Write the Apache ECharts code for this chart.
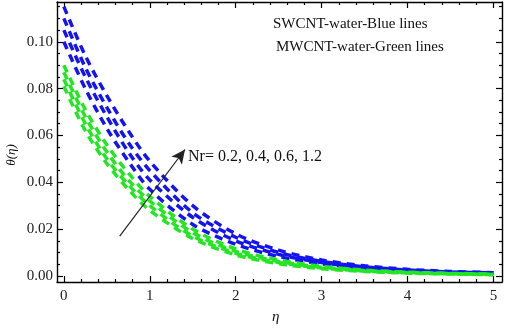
<!DOCTYPE html>
<html>
<head>
<meta charset="utf-8">
<script src="https://cdn.jsdelivr.net/npm/echarts@6/dist/echarts.min.js"></script>
<style>
  html, body { margin: 0; padding: 0; background: #fff; }
  #main { width: 505px; height: 333px; }
</style>
</head>
<body>
<div id="main"></div>
<script>
var eta = [0, 0.25, 0.5, 0.75, 1, 1.5, 2, 2.5, 3, 3.5, 4, 4.5, 5];

// SWCNT-water (blue), Nr = 0.2, 0.4, 0.6, 1.2
var blueNr02 = [0.100, 0.080, 0.063, 0.049, 0.037, 0.022, 0.0135, 0.0083, 0.0052, 0.0033, 0.0021, 0.0015, 0.0011];
var blueNr04 = [0.105, 0.085, 0.068, 0.053, 0.041, 0.025, 0.0150, 0.0092, 0.0057, 0.0036, 0.0023, 0.0016, 0.0012];
var blueNr06 = [0.110, 0.089, 0.072, 0.057, 0.045, 0.027, 0.0165, 0.0100, 0.0062, 0.0039, 0.0025, 0.0017, 0.0013];
var blueNr12 = [0.115, 0.094, 0.077, 0.062, 0.049, 0.030, 0.0180, 0.0110, 0.0068, 0.0043, 0.0028, 0.0019, 0.0014];

// MWCNT-water (green)
var greenNr02 = [0.081, 0.062, 0.048, 0.037, 0.028, 0.016, 0.0090, 0.0052, 0.0031, 0.0019, 0.0012, 0.0008, 0.0005];
var greenNr04 = [0.084, 0.065, 0.050, 0.039, 0.030, 0.017, 0.0097, 0.0057, 0.0034, 0.0021, 0.0013, 0.0009, 0.0006];
var greenNr06 = [0.087, 0.068, 0.053, 0.041, 0.032, 0.0185, 0.0105, 0.0062, 0.0037, 0.0023, 0.0015, 0.0010, 0.0007];
var greenNr12 = [0.090, 0.071, 0.056, 0.044, 0.034, 0.020, 0.0115, 0.0068, 0.0041, 0.0025, 0.0016, 0.0011, 0.0008];

var xMajor = [0, 1, 2, 3, 4, 5];
var xMinor = [0.2, 0.4, 0.6, 0.8, 1.2, 1.4, 1.6, 1.8, 2.2, 2.4, 2.6, 2.8, 3.2, 3.4, 3.6, 3.8, 4.2, 4.4, 4.6, 4.8];
var yMajor = [0, 0.02, 0.04, 0.06, 0.08, 0.10];
var yMinor = [0.005, 0.01, 0.015, 0.025, 0.03, 0.035, 0.045, 0.05, 0.055, 0.065, 0.07, 0.075, 0.085, 0.09, 0.095, 0.105, 0.11, 0.115];

var arrowFrom = [0.65, 0.017];
var arrowTo = [1.41, 0.054];

var X_MIN = -0.08, X_MAX = 5.1, Y_MIN = -0.0026, Y_MAX = 0.117;
var FONT = '"Liberation Serif", "DejaVu Serif", serif';

function pairs(ys) {
    return eta.map(function (x, i) { return [x, ys[i]]; });
}

function xAx(pos, vals, len, withLabels, withLine) {
    return {
        type: 'value', position: pos, min: X_MIN, max: X_MAX,
        splitLine: { show: false },
        axisLine: { show: withLine, onZero: false, lineStyle: { color: '#000', width: 1.4 } },
        axisTick: { show: true, inside: true, length: len, customValues: vals, lineStyle: { color: '#000', width: 1.2 } },
        axisLabel: withLabels ? { show: true, customValues: xMajor, color: '#222', fontFamily: FONT, fontSize: 15, margin: 7 } : { show: false }
    };
}
function yAx(pos, vals, len, withLabels, withLine) {
    return {
        type: 'value', position: pos, min: Y_MIN, max: Y_MAX,
        splitLine: { show: false },
        axisLine: { show: withLine, onZero: false, lineStyle: { color: '#000', width: 1.4 } },
        axisTick: { show: true, inside: true, length: len, customValues: vals, lineStyle: { color: '#000', width: 1.2 } },
        axisLabel: withLabels ? {
            show: true, customValues: yMajor, color: '#222', fontFamily: FONT, fontSize: 15, margin: 4,
            formatter: function (v) { return v.toFixed(2); }
        } : { show: false }
    };
}

function curve(ys, color) {
    return {
        type: 'line', data: pairs(ys), smooth: 0.3, showSymbol: false,
        xAxisIndex: 0, yAxisIndex: 0,
        lineStyle: { color: color, width: 3.5, type: [8, 6] }
    };
}

var series = [
    curve(blueNr02, '#1414f0'), curve(blueNr04, '#1414f0'), curve(blueNr06, '#1414f0'), curve(blueNr12, '#1414f0'),
    curve(greenNr02, '#22e622'), curve(greenNr04, '#22e622'), curve(greenNr06, '#22e622'), curve(greenNr12, '#22e622')
];
series[0].markLine = {
    silent: true, symbol: ['none', 'arrow'], symbolSize: [10, 14], label: { show: false },
    lineStyle: { color: '#222', width: 1.2, type: 'solid' },
    data: [[{ coord: arrowFrom }, { coord: arrowTo }]]
};

var myChart = echarts.init(document.getElementById('main'));
var option = {
    animation: false,
    backgroundColor: '#fff',
    grid: { left: 57, right: 3, top: 2, bottom: 51 },
    xAxis: [
        xAx('bottom', xMajor, 6, true, true),
        xAx('bottom', xMinor, 3, false, false),
        xAx('top', xMajor, 6, false, true),
        xAx('top', xMinor, 3, false, false)
    ],
    yAxis: [
        yAx('left', yMajor, 6, true, true),
        yAx('left', yMinor, 3, false, false),
        yAx('right', yMajor, 6, false, true),
        yAx('right', yMinor, 3, false, false)
    ],
    series: series,
    graphic: [
        { type: 'text', left: 273, top: 17, style: { text: 'SWCNT-water-Blue lines', font: '15px ' + FONT, fill: '#111' } },
        { type: 'text', left: 276, top: 40, style: { text: 'MWCNT-water-Green lines', font: '15px ' + FONT, fill: '#111' } },
        { type: 'text', left: 188, top: 149, style: { text: 'Nr= 0.2, 0.4, 0.6, 1.2', font: '16px ' + FONT, fill: '#111' } },
        { type: 'text', left: 272, top: 310, style: { text: 'η', font: 'italic 15px ' + FONT, fill: '#111' } },
        { type: 'text', x: 12, y: 155, rotation: Math.PI / 2, style: { text: 'θ(η)', font: 'italic 13px ' + FONT, fill: '#111', align: 'center', verticalAlign: 'middle' } }
    ]
};
myChart.setOption(option);
</script>
</body>
</html>
